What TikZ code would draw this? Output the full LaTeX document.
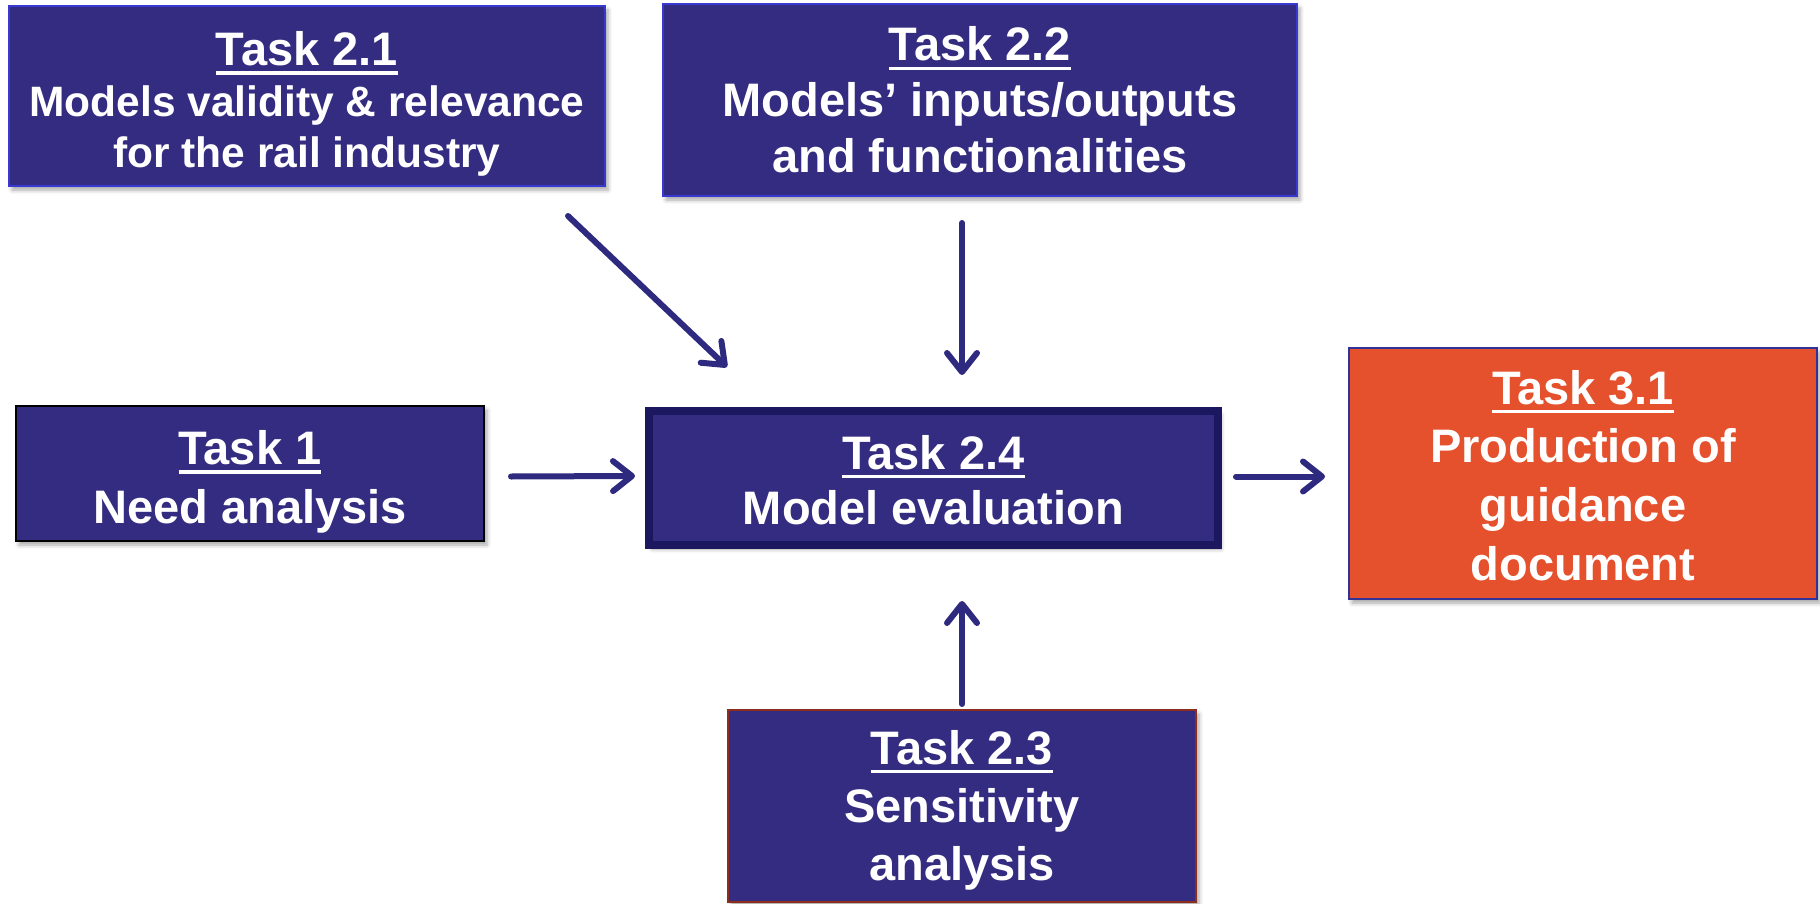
\documentclass[tikz,border=0pt]{standalone}
\usepackage{fontspec}
\setmainfont{Liberation Sans}
\usetikzlibrary{arrows.meta,calc,shadows.blur}
\definecolor{navy}{RGB}{51,44,128}
\definecolor{navyedge}{RGB}{27,24,96}
\definecolor{blueedge}{RGB}{56,56,210}
\definecolor{orangefill}{RGB}{229,80,45}
\definecolor{orangeedge}{RGB}{50,50,150}
\definecolor{brownedge}{RGB}{140,45,30}
\definecolor{arrowc}{RGB}{46,42,127}
\newcommand\tasktitle[1]{\setbox0=\hbox{#1}\rlap{\rule[-4.5pt]{\wd0}{1.6pt}}\box0}
\tikzset{
  taskbox/.style={draw, line width=1pt, fill=navy, inner sep=0pt,
    blur shadow={shadow xshift=1.5pt, shadow yshift=-2pt, shadow blur radius=2pt, shadow opacity=35}},
  tasktext/.style={text=white, inner sep=0pt, align=center,
    font=\fontsize{23.5}{28}\selectfont\bfseries},
  flow/.style={draw=arrowc, line width=3pt, line cap=round,
    -{Straight Barb[length=9.5pt,width=15pt,line cap=round,line join=round]}},
}
\begin{document}
\begin{tikzpicture}[x=0.5pt,y=-0.5pt]
\useasboundingbox (0,0) rectangle (1820,904);

% boxes
\node[taskbox, draw=blueedge, minimum width=298pt, minimum height=90pt] (T21) at (307,96) {};
\node[taskbox, draw=blueedge, minimum width=317pt, minimum height=96pt] (T22) at (980,100) {};
\node[taskbox, draw=black, minimum width=234pt, minimum height=67.5pt] (T1) at (250,473.5) {};
\node[taskbox, draw=navyedge, line width=4pt, minimum width=284.5pt, minimum height=67pt] (T24) at (933.5,478) {};
\node[taskbox, draw=orangeedge, fill=orangefill, minimum width=234pt, minimum height=125.5pt] (T31) at (1583,473.5) {};
\node[taskbox, draw=brownedge, minimum width=234pt, minimum height=96pt] (T23) at (962,806) {};

% texts
\node[tasktext, font=\fontsize{21.25}{25.5}\selectfont\bfseries] (L21) at ($(T21.center)+(0,8)$)
  {{\fontsize{23.5}{25.5}\selectfont\tasktitle{Task 2.1}}\\Models validity \& relevance\\for the rail industry};
\node[tasktext] (L22) at ($(T22.center)+(0,0)$)
  {\tasktitle{Task 2.2}\\Models’ inputs/outputs\\and functionalities};
\node[tasktext, font=\fontsize{23.5}{29.5}\selectfont\bfseries] (L1) at ($(T1.center)+(0,8.5)$)
  {\tasktitle{Task 1}\\Need analysis};
\node[tasktext, font=\fontsize{23.5}{27.5}\selectfont\bfseries] (L24) at ($(T24.center)+(0,2)$)
  {\tasktitle{Task 2.4}\\Model evaluation};
\node[tasktext, font=\fontsize{23.5}{29.4}\selectfont\bfseries] (L31) at ($(T31.center)+(0,2)$)
  {\tasktitle{Task 3.1}\\Production of\\guidance\\document};
\node[tasktext, font=\fontsize{23.5}{29}\selectfont\bfseries] (L23) at ($(T23.center)+(0,4)$)
  {\tasktitle{Task 2.3}\\Sensitivity\\analysis};

% connectors
\draw[flow] ($(T1.east)+(26,3)$) -- ($(T24.west)+(-10,-2)$);
\draw[flow] ($(T24.east)+(14,-1.5)$) -- ($(T31.west)+(-23,3)$);
\draw[flow] ($(T21.south east)+(-38,29)$) -- ($(T24.north west)+(82,-40)$);
\draw[flow] ($(T22.south)+(-18,26)$) -- ($(T24.north)+(28.5,-32)$);
\draw[flow] ($(T23.north)+(0,-5)$) -- ($(T24.south)+(28.5,52)$);
\end{tikzpicture}
\end{document}
